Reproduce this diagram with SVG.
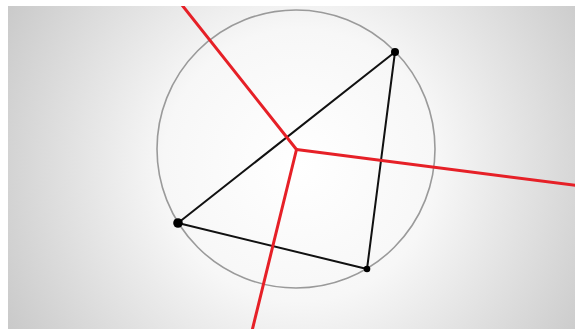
<svg xmlns="http://www.w3.org/2000/svg" width="575" height="329" viewBox="0 0 575 329">
  <defs>
    <radialGradient id="bg" gradientUnits="userSpaceOnUse" cx="300" cy="165" r="340">
      <stop offset="0" stop-color="#ffffff"/>
      <stop offset="0.4" stop-color="#f7f7f7"/>
      <stop offset="1" stop-color="#c8c8c8"/>
    </radialGradient>
    <clipPath id="area"><rect x="8" y="6" width="567" height="323"/></clipPath>
    <style>
      .circ{fill:none;stroke:#9a9a9a;stroke-width:1.6}
      .tri{fill:none;stroke:#111;stroke-width:2;stroke-linejoin:round}
      .bis{stroke:#e62027;stroke-width:3;stroke-linecap:round;fill:none}
      .pt{fill:#000}
    </style>
  </defs>
  <rect width="575" height="329" fill="#ffffff"/>
  <g clip-path="url(#area)">
    <rect x="8" y="6" width="567" height="323" fill="url(#bg)"/>
    <g id="circumcircle"><circle class="circ" cx="296" cy="149" r="139"/></g>
    <g id="connectors">
      <polygon class="tri" points="395,52 178,223 367,269"/>
      <line class="bis" x1="296.5" y1="149.5" x2="178" y2="0"/>
      <line class="bis" x1="296.5" y1="149.5" x2="580" y2="186"/>
      <line class="bis" x1="296.5" y1="149.5" x2="251" y2="335"/>
    </g>
    <g id="vertexA"><circle class="pt" cx="395" cy="52" r="4"/></g>
    <g id="vertexB"><circle class="pt" cx="178" cy="223" r="4.8"/></g>
    <g id="vertexC"><circle class="pt" cx="367" cy="269" r="3.3"/></g>
  </g>
</svg>
